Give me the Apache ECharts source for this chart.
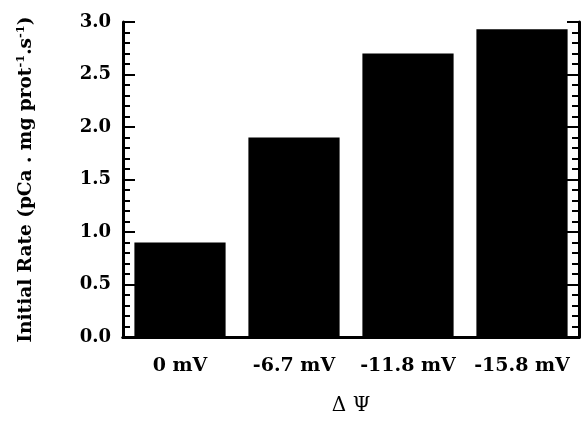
<!DOCTYPE html>
<html>
<head>
<meta charset="utf-8">
<script src="https://cdn.jsdelivr.net/npm/echarts@6/dist/echarts.min.js"></script>
<style>
html, body { margin: 0; padding: 0; background: #fff; }
#chart { width: 581px; height: 421px; }
</style>
</head>
<body>
<div id="chart"></div>
<script>
var categories = ['0 mV', '-6.7 mV', '-11.8 mV', '-15.8 mV'];
var rates = [0.9, 1.9, 2.7, 2.93];
var yTicks = { min: 0, max: 3, interval: 0.5 };

var serif = '"DejaVu Serif", "Liberation Serif", serif';

var chart = echarts.init(document.getElementById('chart'));

var sideAxis = function(showLabel) {
	return {
		type : 'value',
		position : showLabel ? 'left' : 'right',
		min : yTicks.min,
		max : yTicks.max,
		interval : yTicks.interval,
		axisLine : { show : true, lineStyle : { color : '#000', width : 3 } },
		axisTick : { show : true, inside : true, length : 12, lineStyle : { color : '#000', width : 2 } },
		minorTick : { show : true, splitNumber : 5, length : 7, lineStyle : { color : '#000', width : 2 } },
		splitLine : { show : false },
		axisLabel : {
			show : showLabel,
			margin : 12,
			color : '#000',
			fontFamily : serif,
			fontWeight : 'bold',
			fontSize : 18,
			formatter : function(v) { return v.toFixed(1); }
		}
	};
};

var left = sideAxis(true);
left.name = 'Initial Rate (pCa . mg prot{sup|-1}.s{sup|-1})';
left.nameLocation = 'middle';
left.nameGap = 86;
left.nameTextStyle = {
	color : '#000',
	fontFamily : serif,
	fontWeight : 'bold',
	fontSize : 18.5,
	lineHeight : 22,
	rich : {
		sup : { fontFamily : serif, fontWeight : 'bold', fontSize : 11.5, lineHeight : 11, verticalAlign : 'top', color : '#000' }
	}
};

var option = {
	animation : false,
	backgroundColor : '#fff',
	grid : { left : 123, right : 2, top : 22, bottom : 76 },
	xAxis : [ {
		type : 'category',
		data : categories,
		position : 'bottom',
		axisLine : { lineStyle : { color : '#000', width : 3 } },
		axisTick : { show : false },
		axisLabel : {
			interval : 0,
			hideOverlap : false,
			margin : 20,
			color : '#000',
			fontFamily : serif,
			fontWeight : 'bold',
			fontSize : 19
		},
		name : 'Δ Ψ',
		nameLocation : 'middle',
		nameGap : 59,
		nameTextStyle : { color : '#000', fontFamily : serif, fontSize : 20 }
	}, {
		type : 'category',
		data : categories,
		position : 'top',
		axisLine : { lineStyle : { color : '#000', width : 3 } },
		axisTick : { show : false },
		axisLabel : { show : false }
	} ],
	yAxis : [ left, sideAxis(false) ],
	series : [ {
		type : 'bar',
		data : rates,
		barCategoryGap : '20%',
		itemStyle : { color : '#000' }
	} ]
};
chart.setOption(option);
</script>
</body>
</html>
